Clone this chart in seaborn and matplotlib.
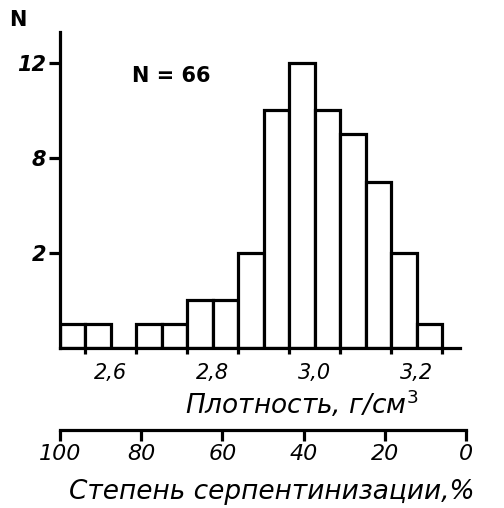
import matplotlib
matplotlib.use("Agg")
import matplotlib.pyplot as plt
import seaborn as sns
import numpy as np

# ---- data ----
bin_edges = [2.50, 2.55, 2.60, 2.65, 2.70, 2.75, 2.80, 2.85, 2.90,
             2.95, 3.00, 3.05, 3.10, 3.15, 3.20, 3.25]
bin_centers = [2.525, 2.575, 2.625, 2.675, 2.725, 2.775, 2.825, 2.875,
               2.925, 2.975, 3.025, 3.075, 3.125, 3.175, 3.225]
counts = [1, 1, 0, 1, 1, 2, 2, 4, 10, 12, 10, 9, 7, 4, 1]

x_major_ticks = [2.6, 2.7, 2.8, 2.9, 3.0, 3.1, 3.2]
x_tick_labels = ["2,6", "", "2,8", "", "3,0", "", "3,2"]
y_ticks = [4, 8, 12]
y_tick_labels = ["2", "8", "12"]
serp_ticks = [100, 80, 60, 40, 20, 0]
serp_labels = ["100", "80", "60", "40", "20", "0"]

sns.set_theme(style="white")
plt.rcParams["font.family"] = ["DejaVu Sans"]
plt.rcParams["text.color"] = "black"
plt.rcParams["xtick.color"] = "black"
plt.rcParams["ytick.color"] = "black"
plt.rcParams["axes.labelcolor"] = "black"

LW = 2.3
fig = plt.figure(figsize=(5.04, 5.08), dpi=100)
ax = fig.add_axes([60/504, 160/508, 400/504, 316/508])

sns.histplot(x=bin_centers, weights=counts, bins=bin_edges, ax=ax,
             color="white", edgecolor="black", linewidth=LW, alpha=1)

ax.set_xlim(2.5, 3.285)
ax.set_ylim(0, 13.3)
for s in ["top", "right"]:
    ax.spines[s].set_visible(False)
for s in ["left", "bottom"]:
    ax.spines[s].set_color("black")
    ax.spines[s].set_linewidth(LW)

ax.set_xticks(x_major_ticks)
ax.set_xticklabels(x_tick_labels, fontsize=15, style="italic")
ax.set_xticks(bin_edges[1:], minor=True)
ax.tick_params(axis="x", which="major", direction="out", length=9,
               width=LW, color="black", pad=2)
ax.tick_params(axis="x", which="minor", direction="out", length=4,
               width=LW, color="black", bottom=True)
ax.set_yticks(y_ticks)
ax.set_yticklabels(y_tick_labels, fontsize=15, style="italic", fontweight="bold")
ax.tick_params(axis="y", direction="out", length=8, width=LW, color="black",
               left=True, pad=2)
ax.set_xlabel("")
ax.set_ylabel("")
ax.grid(False)

fig.text(18/504, 1 - 20/508, "N", fontsize=15, fontweight="bold",
         ha="center", va="center")
ax.text(0.18, 0.86, "N = 66", transform=ax.transAxes, fontsize=15,
        fontweight="bold", ha="left", va="center")
fig.text(302/504, 1 - 404/508, "Плотность, г/см$^3$", fontsize=19,
         style="italic", ha="center", va="center")

# secondary scale: degree of serpentinization
ax2 = fig.add_axes([60/504, 78/508, 406/504, 0.001])
ax2.set_xlim(100, 0)
ax2.set_ylim(0, 1)
for s in ["top", "right", "left"]:
    ax2.spines[s].set_visible(False)
ax2.spines["bottom"].set_color("black")
ax2.spines["bottom"].set_linewidth(LW)
ax2.set_facecolor("none")
ax2.set_yticks([])
ax2.set_xticks(serp_ticks)
ax2.set_xticklabels(serp_labels, fontsize=16, style="italic")
ax2.tick_params(axis="x", direction="out", length=8, width=LW,
                color="black", bottom=True, pad=2)
ax2.grid(False)
fig.text(272/504, 1 - 492/508, "Степень серпентинизации,%", fontsize=19,
         style="italic", ha="center", va="center")

fig.savefig("out.png", dpi=100, facecolor="white")
